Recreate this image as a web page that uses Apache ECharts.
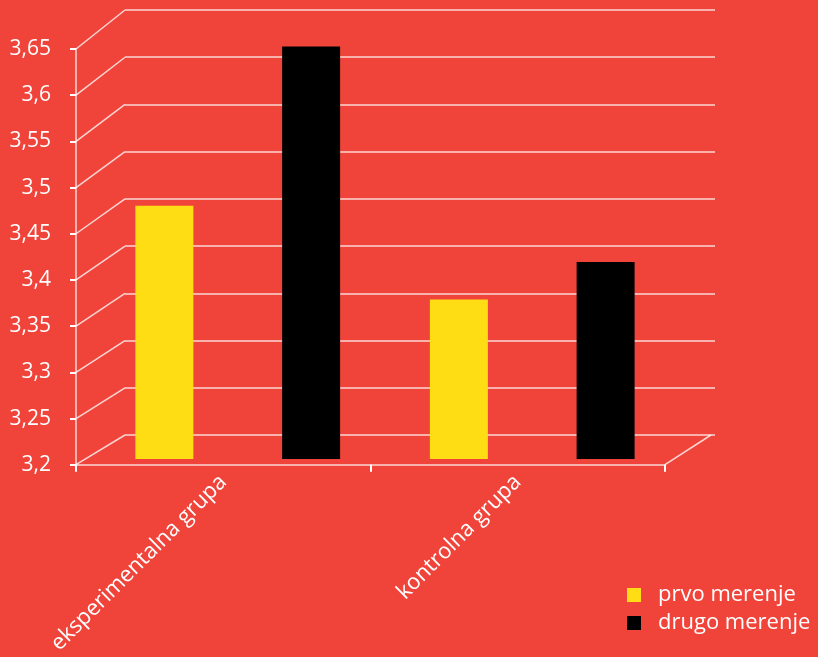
<!DOCTYPE html>
<html>
<head>
<meta charset="utf-8">
<script src="https://cdn.jsdelivr.net/npm/echarts@6/dist/echarts.min.js"></script>
<style>
html,body{margin:0;padding:0;background:#F0433A;}
#c{width:818px;height:657px;}
</style>
</head>
<body>
<div id="c"></div>
<script>
// ---- data ----
const categories = ['eksperimentalna grupa', 'kontrolna grupa'];
const seriesNames = ['prvo merenje', 'drugo merenje'];
const prvoMerenje = [3.47, 3.37];
const drugoMerenje = [3.64, 3.41];
const yTicks = [3.2, 3.25, 3.3, 3.35, 3.4, 3.45, 3.5, 3.55, 3.6, 3.65];
const yMin = 3.2, yMax = 3.65, yStep = 0.05;

// ---- layout ----
const BG = '#F0433A';
const LINE = 'rgba(255,255,255,0.78)';
const FONT = '"Open Sans", "Noto Sans", sans-serif';
const front = {left: 76, top: 49, width: 589, height: 421};
const back = {left: 125, top: 10, width: 590, height: 425};
const bars = {left: 90.5, top: 37, width: 589, height: 422};

const fmt = v => Number(v).toFixed(2).replace(/0$/, '').replace('.', ',');

const chart = echarts.init(document.getElementById('c'), null, {renderer: 'canvas'});
const yBase = {type: 'value', min: yMin, max: yMax, interval: yStep};

chart.setOption({
  backgroundColor: BG,
  animation: false,
  grid: [
    Object.assign({}, front, {containLabel: false}),
    Object.assign({}, back, {containLabel: false}),
    Object.assign({}, bars, {containLabel: false})
  ],
  xAxis: [
    {
      gridIndex: 0, type: 'category', data: categories,
      axisLine: {lineStyle: {color: LINE, width: 1.5}},
      axisTick: {show: true, length: 7, lineStyle: {color: '#fff', width: 2}},
      axisLabel: {rotate: 45, margin: 14, color: '#fff', fontSize: 22, fontFamily: FONT},
      splitLine: {show: false}
    },
    {gridIndex: 1, type: 'category', data: categories, show: false},
    {gridIndex: 2, type: 'category', data: categories, show: false}
  ],
  yAxis: [
    Object.assign({}, yBase, {
      gridIndex: 0,
      axisLine: {show: true, lineStyle: {color: LINE, width: 1.5}},
      axisTick: {show: true, length: 6, lineStyle: {color: '#fff', width: 2}},
      axisLabel: {margin: 25, color: '#fff', fontSize: 21, fontFamily: FONT, formatter: fmt},
      splitLine: {show: false}
    }),
    Object.assign({}, yBase, {
      gridIndex: 1,
      axisLine: {show: false}, axisTick: {show: false}, axisLabel: {show: false},
      splitLine: {show: true, lineStyle: {color: LINE, width: 1.5}}
    }),
    Object.assign({}, yBase, {
      gridIndex: 2, show: false, splitLine: {show: false}
    })
  ],
  legend: {
    orient: 'vertical', left: 627, top: 584, padding: 0,
    itemWidth: 14, itemHeight: 14, itemGap: 6,
    icon: 'rect',
    data: seriesNames,
    textStyle: {color: '#fff', fontSize: 22, fontFamily: FONT, padding: [0, 0, 0, 12]}
  },
  series: [
    {
      name: seriesNames[0], type: 'bar', xAxisIndex: 2, yAxisIndex: 2,
      data: prvoMerenje, barWidth: 58, barGap: '153%',
      itemStyle: {color: '#FFDD15'}, z: 5
    },
    {
      name: seriesNames[1], type: 'bar', xAxisIndex: 2, yAxisIndex: 2,
      data: drugoMerenje, barWidth: 58, barGap: '153%',
      itemStyle: {color: '#000000'}, z: 5
    }
  ]
});

// perspective connectors from front axis ticks to back wall gridlines
const graphics = [];
yTicks.forEach(v => {
  const yf = chart.convertToPixel({yAxisIndex: 0}, v);
  const yb = chart.convertToPixel({yAxisIndex: 1}, v);
  graphics.push({
    type: 'line', silent: true, z: 1,
    shape: {x1: front.left, y1: yf, x2: back.left, y2: yb},
    style: {stroke: LINE, lineWidth: 1.5}
  });
});
// right floor edge
const yf0 = chart.convertToPixel({yAxisIndex: 0}, yMin);
const yb0 = chart.convertToPixel({yAxisIndex: 1}, yMin);
graphics.push({
  type: 'line', silent: true, z: 1,
  shape: {x1: front.left + front.width, y1: yf0, x2: back.left + back.width - 4, y2: yb0},
  style: {stroke: LINE, lineWidth: 1.5}
});
chart.setOption({graphic: graphics});
</script>
</body>
</html>
